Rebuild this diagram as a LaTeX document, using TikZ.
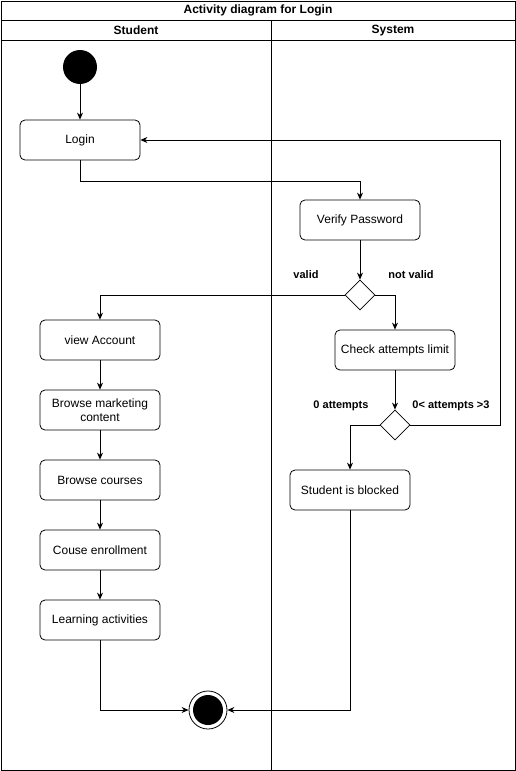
\documentclass[tikz,border=0pt]{standalone}
\usepackage{fontspec}
\setmainfont{Liberation Sans}
\usetikzlibrary{arrows.meta,shapes.geometric}
\begin{document}
\begin{tikzpicture}[x=1pt,y=-1pt,
  act/.style={draw,rounded corners=5pt,minimum width=120pt,minimum height=40pt,align=center,font=\fontsize{12}{14}\selectfont,line width=0.8pt},
  dec/.style={draw,diamond,minimum width=30pt,minimum height=30pt,inner sep=0pt,line width=0.8pt},
  lbl/.style={font=\bfseries\fontsize{11}{13}\selectfont},
  head/.style={font=\bfseries\fontsize{12}{14}\selectfont},
  flow/.style={-{Stealth[length=7pt,width=6pt]},line width=0.8pt},
  frame/.style={line width=0.8pt}]
\useasboundingbox (0,0) rectangle (516,771);
% frame
\draw[frame] (1,1) rectangle (515,770);
\draw[frame] (1,20) -- (515,20);
\draw[frame] (1,40) -- (515,40);
\draw[frame] (271,20) -- (271,770);
\node[head] (title) at (258,10.5) {Activity diagram for Login};
\node[head] (hs) at (136,30.5) {Student};
\node[head] (hy) at (393,30.5) {System};
% nodes
\node[circle,fill=black,minimum size=34pt,inner sep=0pt] (start) at (80,67) {};
\node[act] (login) at (80,140) {Login};
\node[act] (verify) at (360,220) {Verify Password};
\node[dec] (d1) at (360,295) {};
\node[act] (check) at (395,350) {Check attempts limit};
\node[dec] (d2) at (395,425) {};
\node[act] (blocked) at (350,490) {Student is blocked};
\node[act] (view) at (100,340) {view Account};
\node[act] (market) at (100,410) {Browse marketing\\content};
\node[act] (courses) at (100,480) {Browse courses};
\node[act] (enroll) at (100,550) {Couse enrollment};
\node[act] (learn) at (100,620) {Learning activities};
\node[circle,draw,line width=0.8pt,minimum size=38pt,inner sep=0pt] (end) at (208,710) {};
\node[circle,fill=black,minimum size=30pt,inner sep=0pt] (endin) at (208,710) {};
% labels
\node[lbl] (lv) at (306,275) {valid};
\node[lbl] (lnv) at (411,275) {not valid};
\node[lbl] (l0) at (341,406) {0 attempts};
\node[lbl] (l3) at (451,406) {0< attempts >3};
% flows
\draw[flow] (start) -- (login);
\draw[flow] (login.south) -- (80,181) -| (verify.north);
\draw[flow] (verify) -- (d1.north);
\draw[flow] (d1.west) -| (view.north);
\draw[flow] (d1.east) -| (check.north);
\draw[flow] (check) -- (d2.north);
\draw[flow] (d2.east) -- (500,425) |- (login.east);
\draw[flow] (d2.west) -| (blocked.north);
\draw[flow] (view) -- (market);
\draw[flow] (market) -- (courses);
\draw[flow] (courses) -- (enroll);
\draw[flow] (enroll) -- (learn);
\draw[flow] (learn.south) |- (end.west);
\draw[flow] (blocked.south) |- (end.east);
\end{tikzpicture}
\end{document}
